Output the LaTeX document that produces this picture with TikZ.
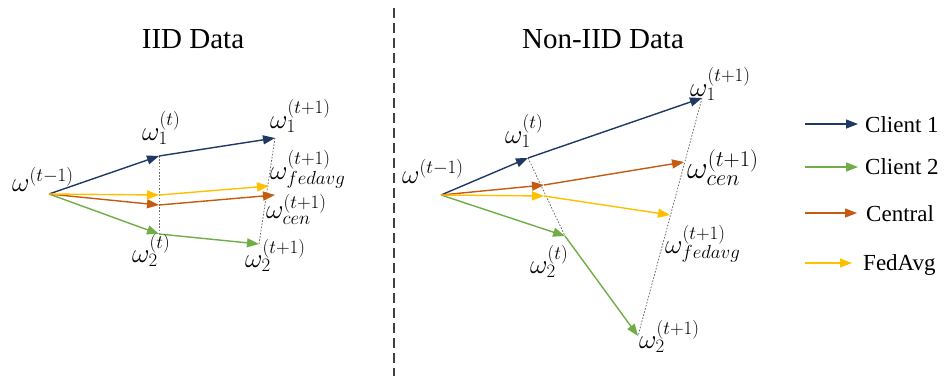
\RequirePackage{fix-cm}
\documentclass[tikz,border=0pt]{standalone}
\usepackage{fontspec}
\setmainfont{Liberation Serif}
\usetikzlibrary{arrows.meta}
\definecolor{cnavy}{HTML}{203864}
\definecolor{cgreen}{HTML}{70AD47}
\definecolor{corange}{HTML}{C55A11}
\definecolor{cgold}{HTML}{FFC000}
\definecolor{csep}{HTML}{404040}
\begin{document}
\begin{tikzpicture}[x=1pt,y=-1pt,
  vec/.style={line width=1.4pt,-{Triangle[length=12pt,width=9pt]}},
  guide/.style={gray!85!black,line width=0.8pt,dash pattern=on 1.6pt off 1.6pt},
  lbl/.style={anchor=base west,inner sep=0pt,font=\fontsize{27}{31}\selectfont},
  biglbl/.style={anchor=base west,inner sep=0pt,font=\fontsize{32}{36}\selectfont},
  ttl/.style={anchor=base,inner sep=0pt,font=\fontsize{29}{34}\selectfont},
  legtxt/.style={anchor=base west,inner sep=0pt,font=\fontsize{23}{27}\selectfont},
  sep/.style={csep,line width=1.5pt,dash pattern=on 10pt off 5pt}]
\useasboundingbox (0,0) rectangle (949,376);

% titles
\node[ttl] (t1) at (193,48) {IID Data};
\node[ttl] (t2) at (603,48) {Non-IID Data};

% separator
\coordinate (s1) at (394,8);
\coordinate (s2) at (394,376);
\draw[sep] (s1) -- (s2);

% ---------- left panel points
\coordinate (A0) at (49,194);
\coordinate (A1) at (159,156);
\coordinate (A1n) at (275,138);
\coordinate (A2) at (159,234);
\coordinate (A2n) at (259,244);
\coordinate (AFm) at (159,195);
\coordinate (AFn) at (269,186);
\coordinate (ACm) at (159,205);
\coordinate (ACn) at (275,195);

\draw[guide] (A1) -- (A2);
\draw[guide] (A1n) -- (A2n);
\draw[vec,cnavy] (A0) -- (A1);
\draw[vec,cnavy] (A1) -- (A1n);
\draw[vec,cgreen] (A0) -- (A2);
\draw[vec,cgreen] (A2) -- (A2n);
\draw[vec,corange] (A0) -- (ACm);
\draw[vec,corange] (ACm) -- (ACn);
\draw[vec,cgold] (A0) -- (AFm);
\draw[vec,cgold] (AFm) -- (AFn);

\node[lbl] (la0) at (12,191) {$\omega^{(t-1)}$};
\node[lbl] (la1) at (142,140) {$\omega_1^{(t)}$};
\node[lbl] (la1n) at (270,128) {$\omega_1^{(t+1)}$};
\node[lbl] (laf) at (270,179) {$\omega_{fedavg}^{(t+1)}$};
\node[lbl] (lac) at (266,218) {$\omega_{cen}^{(t+1)}$};
\node[lbl] (la2) at (132,262) {$\omega_2^{(t)}$};
\node[lbl] (la2n) at (245,267) {$\omega_2^{(t+1)}$};

% ---------- right panel points
\coordinate (B0) at (441,195);
\coordinate (B1) at (528,158);
\coordinate (B1n) at (702,98);
\coordinate (B2) at (565,236);
\coordinate (B2n) at (638,336);
\coordinate (BCm) at (544,185);
\coordinate (BCn) at (684,162);
\coordinate (BFm) at (544,196);
\coordinate (BFn) at (670,215);

\draw[guide] (B1) -- (B2);
\draw[guide] (B1n) -- (B2n);
\draw[vec,cnavy] (B0) -- (B1);
\draw[vec,cnavy] (B1) -- (B1n);
\draw[vec,cgreen] (B0) -- (B2);
\draw[vec,cgreen] (B2) -- (B2n);
\draw[vec,corange] (B0) -- (BCm);
\draw[vec,corange] (BCm) -- (BCn);
\draw[vec,cgold] (B0) -- (BFm);
\draw[vec,cgold] (BFm) -- (BFn);

\node[lbl] (lb0) at (402,183) {$\omega^{(t-1)}$};
\node[lbl] (lb1) at (505,143) {$\omega_1^{(t)}$};
\node[lbl] (lb1n) at (690,96) {$\omega_1^{(t+1)}$};
\node[biglbl] (lbc) at (687,178) {$\omega_{cen}^{(t+1)}$};
\node[lbl] (lbf) at (665,253) {$\omega_{fedavg}^{(t+1)}$};
\node[lbl] (lb2) at (530,273) {$\omega_2^{(t)}$};
\node[lbl] (lb2n) at (639,348) {$\omega_2^{(t+1)}$};

% ---------- legend
\coordinate (g1a) at (805,124); \coordinate (g1b) at (858,124);
\coordinate (g2a) at (805,167); \coordinate (g2b) at (858,167);
\coordinate (g3a) at (805,213); \coordinate (g3b) at (857,213);
\coordinate (g4a) at (805,263); \coordinate (g4b) at (852,263);
\draw[vec,cnavy] (g1a) -- (g1b);
\draw[vec,cgreen] (g2a) -- (g2b);
\draw[vec,corange] (g3a) -- (g3b);
\draw[vec,cgold] (g4a) -- (g4b);
\node[legtxt] (e1) at (865,132) {Client 1};
\node[legtxt] (e2) at (865,174) {Client 2};
\node[legtxt] (e3) at (866,221) {Central};
\node[legtxt] (e4) at (863,270) {FedAvg};
\end{tikzpicture}
\end{document}
